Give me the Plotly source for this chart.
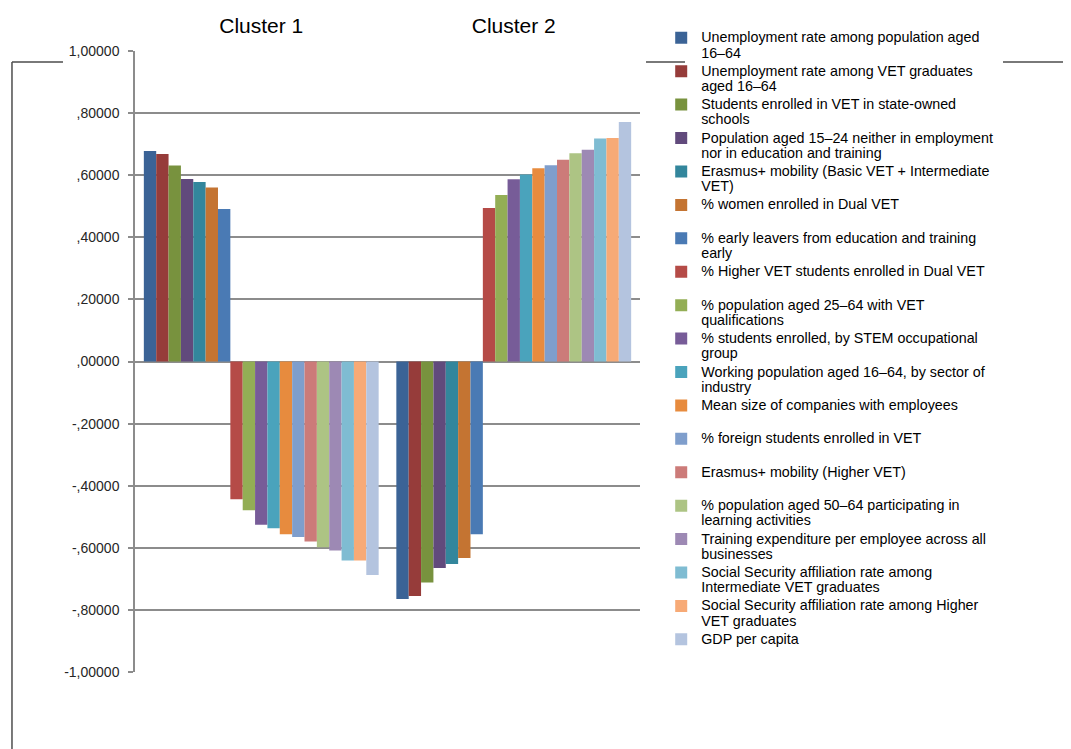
import plotly.graph_objects as go

clusters = ["Cluster 1", "Cluster 2"]

series_names = [
    "Unemployment rate among population aged<br>16–64",
    "Unemployment rate among VET graduates<br>aged 16–64",
    "Students enrolled in VET in state-owned<br>schools",
    "Population aged 15–24 neither in employment<br>nor in education and training",
    "Erasmus+ mobility (Basic VET + Intermediate<br>VET)",
    "% women enrolled in Dual VET<br> ",
    "% early leavers from education and training<br>early",
    "% Higher VET students enrolled in Dual VET<br> ",
    "% population aged 25–64 with VET<br>qualifications",
    "% students enrolled, by STEM occupational<br>group",
    "Working population aged 16–64, by sector of<br>industry",
    "Mean size of companies with employees<br> ",
    "% foreign students enrolled in VET<br> ",
    "Erasmus+ mobility (Higher VET)<br> ",
    "% population aged 50–64 participating in<br>learning activities",
    "Training expenditure per employee across all<br>businesses",
    "Social Security affiliation rate among<br>Intermediate VET graduates",
    "Social Security affiliation rate among Higher<br>VET graduates",
    "GDP per capita",
]

cluster1_values = [0.678, 0.668, 0.631, 0.588, 0.578, 0.560, 0.491,
                   -0.444, -0.479, -0.526, -0.537, -0.556, -0.565, -0.580,
                   -0.598, -0.609, -0.641, -0.641, -0.688]
cluster2_values = [-0.765, -0.755, -0.712, -0.665, -0.652, -0.633, -0.556,
                   0.494, 0.536, 0.587, 0.602, 0.622, 0.632, 0.650,
                   0.671, 0.682, 0.718, 0.720, 0.771]

colors = ["#3B6396", "#963C3A", "#78923E", "#614A7C", "#33869C", "#C47432",
          "#4A7AB4", "#B54B47", "#93AE55", "#775C98", "#4AA3BC", "#E78B3E",
          "#7F9ECC", "#CC7B79", "#ADC484", "#9D89B4", "#7FBCD2", "#F7AA76",
          "#B4C4DF"]

y_tickvals = [1.0, 0.8, 0.6, 0.4, 0.2, 0.0, -0.2, -0.4, -0.6, -0.8, -1.0]
y_ticktext = ["1,00000", ",80000", ",60000", ",40000", ",20000", ",00000",
              "-,20000", "-,40000", "-,60000", "-,80000", "-1,00000"]

legend_text_px = 14.3

fig = go.Figure()
for name, v1, v2, c in zip(series_names, cluster1_values, cluster2_values, colors):
    label = "<br>".join(
        f"<span style='font-size:{legend_text_px}px'>{part}</span>"
        for part in name.split("<br>"))
    fig.add_trace(go.Bar(x=clusters, y=[v1, v2], name=label,
                         marker=dict(color=c, line=dict(width=0))))

font_family = "Liberation Sans, Arial, sans-serif"
# page body has an 8px margin, so margins are reduced by 8 on left/top
fig.update_layout(
    width=1071, height=749,
    margin=dict(l=127, r=439, t=43, b=85, autoexpand=False),
    paper_bgcolor="white", plot_bgcolor="white",
    barmode="group", bargap=0.07, bargroupgap=0,
    font=dict(family=font_family, color="#000000", size=13),
    showlegend=True,
    legend=dict(x=1.042, y=1.044, xanchor="left", yanchor="top",
                font=dict(size=11.7, family=font_family, color="#000000"),
                valign="top", tracegroupgap=0, itemwidth=30,
                maxheight=740,
                bgcolor="rgba(255,255,255,0)"),
    xaxis=dict(side="top", type="category", showline=False, ticks="",
               showgrid=False, tickfont=dict(size=21, color="#000000"),
               ticklabelstandoff=13, automargin=False, fixedrange=True),
    yaxis=dict(range=[-1.0, 1.0], tickvals=y_tickvals, ticktext=y_ticktext,
               showgrid=True, gridcolor="#8C8C8C", gridwidth=1.5,
               showline=True, linecolor="#8C8C8C", linewidth=1.5,
               ticks="outside", ticklen=5, tickcolor="#8C8C8C", tickwidth=1.5,
               zeroline=True, zerolinecolor="#8C8C8C", zerolinewidth=2,
               tickfont=dict(size=14, color="#262626"), ticklabelstandoff=6,
               automargin=False),
)

frame_color = "#4D4D4D"
segments = [
    (-0.2436, 0.9823, -0.1426, 0.9823),
    (-0.2436, 0.9823, -0.2436, -0.13),
    (1.0119, 0.9823, 1.0891, 0.9823),
    (1.7188, 0.9823, 1.90, 0.9823),
]
for x0, y0, x1, y1 in segments:
    fig.add_shape(type="line", xref="paper", yref="paper", x0=x0, y0=y0, x1=x1, y1=y1,
                  line=dict(color=frame_color, width=1.5), layer="below")

fig.write_html("out.html")
